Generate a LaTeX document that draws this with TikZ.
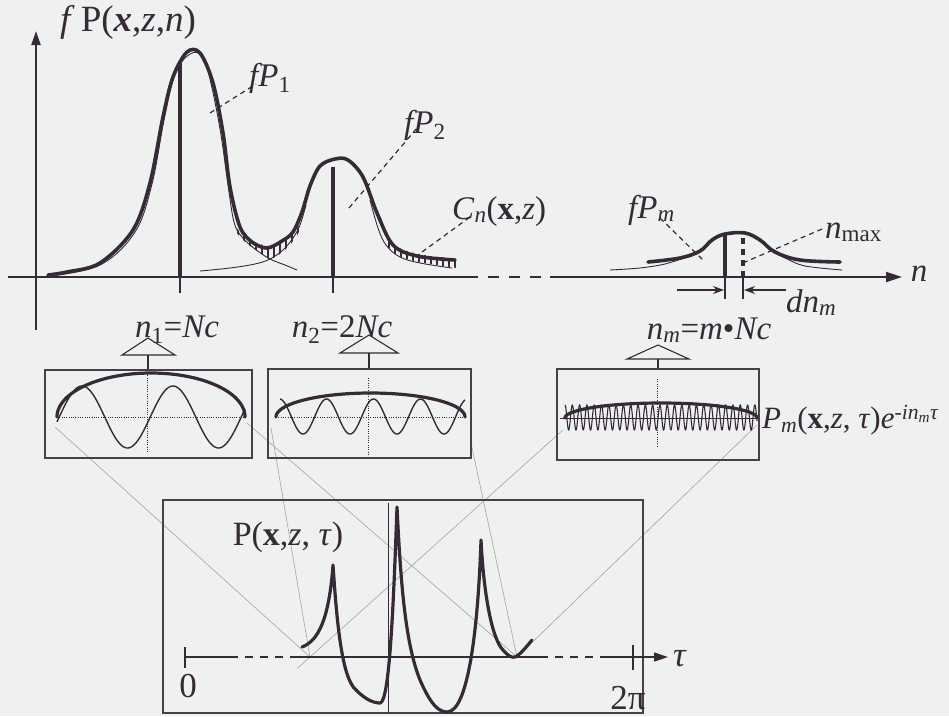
\documentclass[tikz,border=0pt]{standalone}
\usepackage{fontspec}
\setmainfont{Liberation Serif}
\usetikzlibrary{arrows.meta,calc}
\definecolor{ink}{HTML}{352A35}
\definecolor{bg}{HTML}{EFF1F0}
\definecolor{proj}{HTML}{A4A4A4}
\newcommand{\fz}[1]{\fontsize{#1}{#1}\selectfont}
\tikzset{
  env/.style={ink, line width=3.6pt, line cap=round, line join=round},
  thinc/.style={ink, line width=0.9pt},
  axisline/.style={ink, line width=2.2pt},
  lbl/.style={inner sep=0pt, text=ink, font=\fz{33}},
  framebox/.style={draw=ink!90, line width=1.5pt},
  dotline/.style={ink, line width=0.9pt, dash pattern=on 1pt off 1.3pt},
  leader/.style={ink, line width=1.2pt, dash pattern=on 5pt off 4pt},
  projline/.style={proj, line width=0.6pt},
  tri/.style={ink, line width=1.1pt, line join=miter},
  bar/.style={ink, line width=3.4pt},
  hatch/.style={ink, line width=2.2pt},
}
\begin{document}
\begin{tikzpicture}[x=1pt,y=-1pt]
\fill[bg] (0,0) rectangle (949,716);
\useasboundingbox (0,0) rectangle (949,716);

% ---------- projection lines ----------
\coordinate (j1) at (310,657);
\coordinate (j2) at (517,657);
\coordinate (b1l) at (55,427);
\coordinate (b1r) at (247,423);
\coordinate (b2l) at (271,428);
\coordinate (b2r) at (471,443);
\coordinate (bml) at (563,430);
\coordinate (bmr) at (757,425);
\draw[projline] (b1l) -- (j1);
\draw[projline] (b1r) -- (j2);
\draw[projline] (b2l) -- (j1);
\draw[projline] (b2r) -- (j2);
\draw[projline] (bml) -- ($(bml)!1.05!(j1)$);
\draw[projline] (bmr) -- (j2);

% ---------- main axes ----------
\coordinate (yb) at (36,330);
\coordinate (yt) at (36,31);
\draw[axisline, -{Triangle[length=14pt,width=9pt]}] (yb) -- (yt);
\coordinate (xa) at (8,277);
\coordinate (xd1) at (467,277);
\coordinate (xd2) at (550,277);
\coordinate (xe) at (902,277);
\draw[axisline] (xa) -- (xd1);
\draw[axisline, dash pattern=on 11pt off 10pt] (xd1) -- (xd2);
\draw[axisline, -{Triangle[length=16pt,width=10pt]}] (xd2) -- (xe);
\node[lbl] (nlab) at (919,274) {\textit{n}};
\node[lbl, anchor=south, font=\fz{37}] (ylab) at (128,40) {\textit{f}\,P(\textbf{\textit{x}},\textit{z},\textit{n})};

% ticks
\draw[ink, line width=1.2pt] (180,277) -- (180,293);
\draw[ink, line width=1.2pt] (333,277) -- (333,293);

% ---------- hatched bands ----------
\begin{scope}
\clip plot[smooth] coordinates {(232,222)(240,232)(250,240)(260,244)(268,246)(278,244)(288,238)(296,230)(300,224)}
  -- plot[smooth] coordinates {(302,226)(298,234)(290,245)(280,254)(270,259)(260,253)(250,246)(240,237)(232,226)} -- cycle;
\foreach \xx in {238,244,...,300} \draw[hatch] (\xx,200) -- (\xx,280);
\end{scope}
\begin{scope}
\clip plot[smooth] coordinates {(384,238)(395,246)(410,252)(430,256)(457,259)}
  -- (457,268) -- plot[smooth] coordinates {(430,264)(410,260)(395,254)(384,243)} -- cycle;
\foreach \xx in {389,395,...,455} \draw[hatch] (\xx,220) -- (\xx,280);
\end{scope}

% thin individual lines
\draw[thinc] plot[smooth, tension=0.6] coordinates {(50,276)(100,265)(135,232)(152,184)(164,120)(175,74)(190,54)(203,57)(212,88)(221,135)(228,185)(234,222)(242,237)(255,249)(270,259)(285,265)(297,270)};
\draw[thinc] plot[smooth, tension=0.6] coordinates {(200,271)(230,268)(255,264)(270,259)(283,250)(293,238)(300,225)(306,205)};
\draw[thinc] plot[smooth, tension=0.6] coordinates {(370,200)(378,228)(386,245)(400,257)(420,263)(452,268)};

% envelope
\draw[env] plot[smooth, tension=0.55] coordinates {(48,275)(67,272)(100,263)(133,230)(150,183)(163,117)(173,77)(187,52)(200,53)(213,83)(223,133)(230,187)(240,227)(252,242)(267,248)(282,241)(293,232)(302,212)(310,186)(320,166)(335,159)(348,160)(363,177)(377,213)(393,245)(417,256)(455,260)};

% peak bars
\draw[bar] (180,277) -- (180,62);
\draw[bar] (333,277) -- (333,167);

% leaders and labels
\node[lbl, anchor=base west] (fp1) at (249,86) {\textit{fP}\textsubscript{1}};
\draw[leader] (210,113) -- (256,84);
\node[lbl, anchor=base west] (fp2) at (404,133) {\textit{fP}\textsubscript{2}};
\draw[leader] (349,208) -- (417,128);
\node[lbl, anchor=base west] (cn) at (452,219) {\textit{C}\textsubscript{\textit{n}}(\textbf{x},\textit{z})};
\draw[leader] (422,252) -- (470,217);

% ---------- peak m ----------
\draw[thinc] plot[smooth] coordinates {(610,270)(640,268)(665,264)(690,256)};
\draw[thinc] plot[smooth] coordinates {(770,249)(785,258)(805,266)(842,270)};
\draw[env] plot[smooth, tension=0.6] coordinates {(648,262)(680,258)(700,251)(712,240)(725,234)(745,233)(760,240)(775,252)(800,260)(840,262)};
\draw[bar] (725,277) -- (725,235);
\draw[bar, dash pattern=on 6pt off 5pt] (743,277) -- (743,233);
\draw[ink, line width=1.2pt] (725,277) -- (725,299);
\draw[ink, line width=1.2pt] (743,277) -- (743,299);
\coordinate (al) at (677,290);
\coordinate (ar) at (786,290);
\draw[ink, line width=1.3pt, -{Stealth[length=11pt,width=8pt]}] (al) -- (724,290);
\draw[ink, line width=1.3pt, -{Stealth[length=11pt,width=8pt]}] (ar) -- (744,290);
\node[lbl, anchor=base west] (fpm) at (628,218) {\textit{fP\textsubscript{m}}};
\draw[leader] (660,218) -- (704,261);
\node[lbl, anchor=base west] (nmax) at (825,238) {\textit{n}\textsubscript{max}};
\draw[leader] (822,229) -- (745,262);
\node[lbl, anchor=base west] (dnm) at (786,312) {\textit{dn\textsubscript{m}}};

% ---------- labels under axis ----------
\node[lbl, anchor=base] (n1) at (177,337) {\textit{n}\textsubscript{1}=\textit{Nc}};
\node[lbl, anchor=base] (n2) at (342,337) {\textit{n}\textsubscript{2}=2\textit{Nc}};
\node[lbl, anchor=base] (nm) at (709,339) {\textit{n\textsubscript{m}}=\textit{m}•\textit{Nc}};

% triangles + stems
\draw[tri] (148,338) -- (175,355) -- (122,355) -- cycle;
\draw[tri] (148,355) -- (148,370);
\draw[tri] (369,335) -- (398,353) -- (340,353) -- cycle;
\draw[tri] (369,353) -- (369,369);
\draw[tri] (658,345) -- (689,359) -- (627,359) -- cycle;
\draw[tri] (658,359) -- (658,369);

% ---------- box 1 ----------
\draw[framebox] (45,370) rectangle (252,458);
\draw[dotline] (57,417) -- (245,417);
\draw[dotline] (147,373) -- (147,452);
\draw[ink, line width=1.4pt] plot[domain=57:245, samples=160] (\x, {417-31*cos(3.956*(\x-82))});
\draw[env, line width=3.2pt] plot[domain=180:0, samples=90, variable=\t] ({151+94*cos(\t)}, {417-44*sin(\t)});

% ---------- box 2 ----------
\draw[framebox] (268,369) rectangle (471,458);
\draw[dotline] (276,417) -- (465,417);
\draw[dotline] (368,378) -- (368,455);
\draw[ink, line width=1.4pt] plot[domain=280:465, samples=200] (\x, {416.5-17.5*cos(7.66*(\x-326.5))});
\draw[env, line width=3.2pt] plot[domain=180:0, samples=90, variable=\t] ({370.5+94.5*cos(\t)}, {417-24*sin(\t)});

% ---------- box m ----------
\draw[framebox] (557,369) rectangle (759,460);
\draw[ink, line width=0.8pt] (560,418) -- (759,418);
\draw[dotline] (657,379) -- (657,446);
\draw[ink, line width=1.1pt] plot[domain=565:757, samples=700] (\x, {417.5-12.5*cos(49.3*(\x-565))});
\draw[env, line width=3.2pt] plot[domain=180:0, samples=90, variable=\t] ({661+96*cos(\t)}, {418-15*sin(\t)});
\node[lbl, anchor=west, font=\fz{31}] (pm) at (762,420) {\textit{P\textsubscript{m}}(\textbf{x},\textit{z}, \textit{τ})\textit{e}\textsuperscript{-\textit{in\textsubscript{m}τ}}};

% ---------- bottom panel ----------
\draw[framebox] (163,500) rectangle (643,713);
\draw[ink, line width=1pt] (388,503) -- (388,713);
\coordinate (t0) at (185,657);
\coordinate (td1) at (230,657);
\coordinate (td2) at (290,657);
\coordinate (td3) at (540,657);
\coordinate (td4) at (602,657);
\coordinate (tend) at (668,657);
\draw[ink, line width=1.4pt] (t0) -- (td1);
\draw[ink, line width=1.4pt, dash pattern=on 8pt off 7pt] (td1) -- (td2);
\draw[ink, line width=1.4pt] (td2) -- (td3);
\draw[ink, line width=1.4pt, dash pattern=on 8pt off 7pt] (td3) -- (td4);
\draw[ink, line width=1.4pt, -{Triangle[length=14pt,width=9pt]}] (td4) -- (tend);
\draw[ink, line width=1.6pt] (185,647) -- (185,668);
\draw[ink, line width=1.6pt] (633,645) -- (633,670);
\node[lbl, font=\fz{35}] (zero) at (188,686) {0};
\node[lbl, font=\fz{35}] (twopi) at (628,698) {2π};
\node[lbl, font=\fz{35}] (tau) at (680,659) {\textit{τ}};
\node[lbl, font=\fz{34}] (ptau) at (288,537) {P(\textbf{x},\textit{z}, \textit{τ})};

\draw[env, line width=3.2pt] (302,647) .. controls (318,641) and (329,620) .. (333,565)
 .. controls (337,625) and (342,678) .. (356,690)
 .. controls (365,699) and (373,703) .. (380,703)
 .. controls (389,702) and (393,620) .. (397,507)
 .. controls (401,590) and (406,645) .. (420,680)
 .. controls (430,703) and (438,712) .. (447,712)
 .. controls (468,712) and (478,630) .. (481,540)
 .. controls (484,600) and (493,640) .. (503,650)
 .. controls (508,656) and (512,658) .. (515,657)
 .. controls (520,655) and (527,646) .. (532,640);
\end{tikzpicture}
\end{document}
